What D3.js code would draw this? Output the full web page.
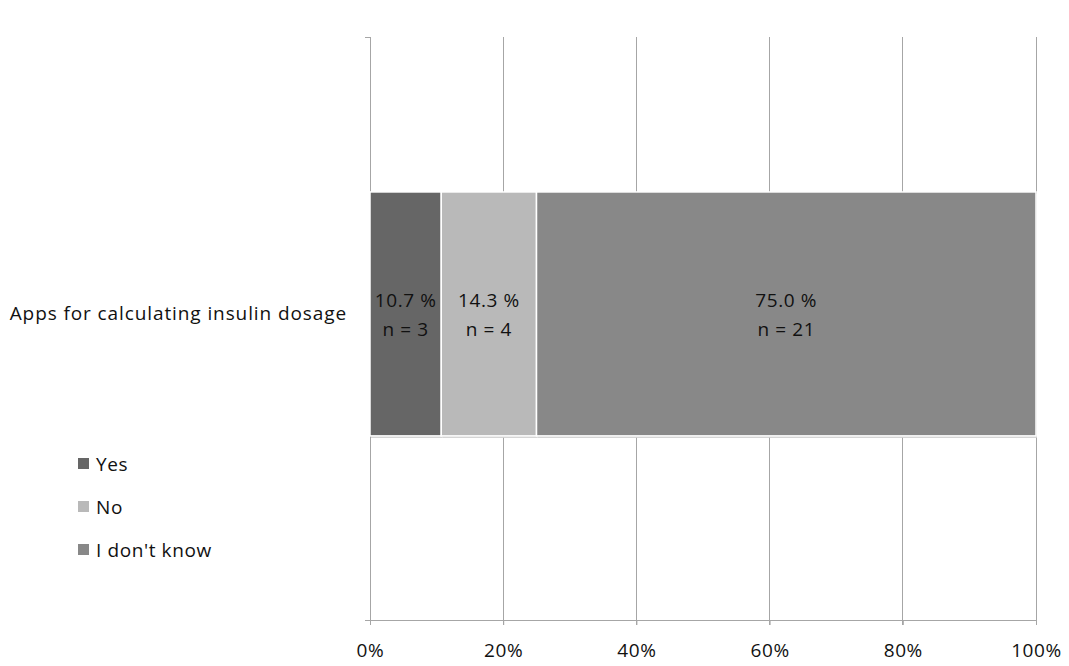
<!DOCTYPE html>
<html><head><meta charset="utf-8">
<script src="https://cdn.jsdelivr.net/npm/d3@7"></script>
<style>body{margin:0;background:#fff}svg{display:block}text{font-family:"Open Sans","Liberation Sans",sans-serif;fill:#111;letter-spacing:0.6px}</style>
</head><body>
<svg id="c" width="1069" height="666"></svg>
<script>
const categories = ["Apps for calculating insulin dosage"];
const seriesNames = ["Yes", "No", "I don't know"];
const percentValues = [10.7, 14.3, 75.0];
const countValues = [3, 4, 21];
const seriesColors = ["#666666", "#b9b9b9", "#888888"];
const tickValues = [0, 20, 40, 60, 80, 100];

(function () {
const svg = d3.select("#c");
const mLeft = 370, mRight = 1036, mTop = 37, mBottom = 620;
const fs = "19px";
const x = d3.scaleLinear().domain([0, 100]).range([mLeft, mRight]);
const y = d3.scaleBand().domain(categories).range([mTop, mBottom]).paddingInner(0).paddingOuter(0.695).align(0.457);

// gridlines
svg.append("g").selectAll("line").data(tickValues.slice(1)).join("line")
  .attr("x1", d => x(d)).attr("x2", d => x(d)).attr("y1", mTop).attr("y2", mBottom + 5)
  .attr("stroke", "#a6a6a6").attr("stroke-width", 1).attr("shape-rendering", "crispEdges");

// y axis line
svg.append("line").attr("x1", mLeft).attr("x2", mLeft).attr("y1", mTop).attr("y2", mBottom + 5)
  .attr("stroke", "#a6a6a6").attr("shape-rendering", "crispEdges");
svg.selectAll(".ytick").data([mTop, mBottom]).join("line")
  .attr("x1", mLeft - 5).attr("x2", mLeft).attr("y1", d => d).attr("y2", d => d)
  .attr("stroke", "#a6a6a6").attr("shape-rendering", "crispEdges");

// x axis
const xAxis = d3.axisBottom(x).tickValues(tickValues).tickFormat(d => d + "%").tickSize(5).tickPadding(19);
const gx = svg.append("g").attr("transform", `translate(0,${mBottom})`).call(xAxis);
gx.select(".domain").attr("stroke", "#a6a6a6").attr("d", `M${mLeft - 5},0.5H${mRight}`);
gx.selectAll(".tick line").attr("stroke", "#a6a6a6");
gx.selectAll("text").style("font-size", fs).attr("fill", "#111").style("font-family", '"Open Sans","Liberation Sans",sans-serif');

// stacked data
const stackData = [];
let acc = 0;
percentValues.forEach((v, i) => { stackData.push({name: seriesNames[i], x0: acc, x1: acc + v, v, n: countValues[i], color: seriesColors[i]}); acc += v; });

const cat = categories[0];
const bandY = y(cat), bandH = y.bandwidth();

// shadow
svg.append("g").selectAll("rect").data(stackData).join("rect")
  .attr("x", d => x(d.x0) + 1).attr("y", bandY + 2).attr("width", d => x(d.x1) - x(d.x0)).attr("height", bandH)
  .attr("fill", "#d0d0d0");

svg.append("g").selectAll("rect").data(stackData).join("rect")
  .attr("x", d => x(d.x0)).attr("y", bandY).attr("width", d => x(d.x1) - x(d.x0)).attr("height", bandH)
  .attr("fill", d => d.color).attr("stroke", "#ffffff").attr("stroke-width", 1.5);

const lbl = svg.append("g").selectAll("text").data(stackData).join("text")
  .attr("text-anchor", "middle").style("font-size", fs);
lbl.append("tspan").attr("x", d => x((d.x0 + d.x1) / 2)).attr("y", bandY + bandH / 2 - 7).text(d => d.v.toFixed(1) + " %");
lbl.append("tspan").attr("x", d => x((d.x0 + d.x1) / 2)).attr("y", bandY + bandH / 2 + 22).text(d => "n = " + d.n);

// category label
svg.append("text").attr("x", mLeft - 23).attr("y", bandY + bandH / 2 + 6).attr("text-anchor", "end")
  .style("font-size", fs).style("letter-spacing", "0.9px").text(cat);

// legend
const lg = svg.append("g").selectAll("g").data(seriesNames).join("g")
  .attr("transform", (d, i) => `translate(78,${464 + i * 43})`);
lg.append("rect").attr("x", 0).attr("y", -6).attr("width", 11).attr("height", 11).attr("fill", (d, i) => seriesColors[i]);
lg.append("text").attr("x", 18).attr("y", 7).style("font-size", fs).text(d => d);
})();
</script>
</body></html>
